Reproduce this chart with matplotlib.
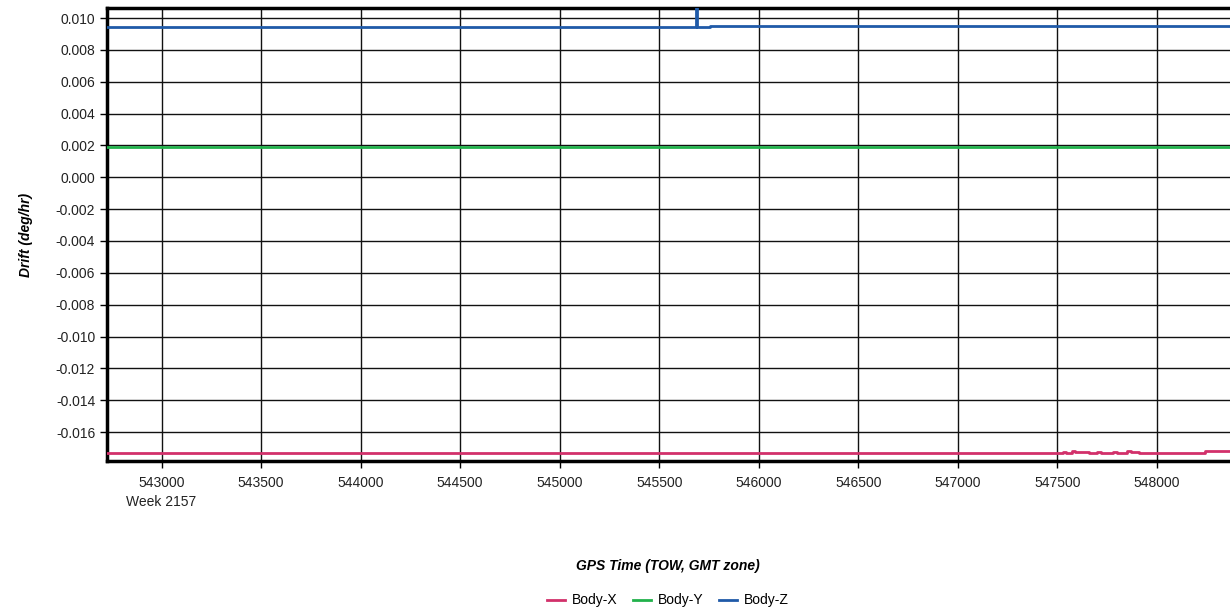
import matplotlib
matplotlib.use("Agg")
import matplotlib.pyplot as plt
import numpy as np

plt.rcParams['font.family'] = ['Liberation Sans', 'DejaVu Sans']

# Data (GPS time of week, drift in deg/hr)
x_times = [542726, 545683, 545687, 545755, 548400]
body_z = [0.00943, 0.0108, 0.00943, 0.00952, 0.00952]

y_times = [542726, 548400]
body_y = [0.00192, 0.00192]

bx_times = [542726, 547530, 547545, 547575, 547590, 547640, 547660, 547700,
            547720, 547780, 547800, 547850, 547870, 547910, 547930, 548240, 548400]
body_x = [-0.01730, -0.01724, -0.01729, -0.01721, -0.01727, -0.01724, -0.01729,
          -0.01726, -0.01729, -0.01726, -0.01728, -0.01721, -0.01724, -0.01729,
          -0.01730, -0.01721, -0.01721]

xticks = [543000, 543500, 544000, 544500, 545000, 545500, 546000, 546500,
          547000, 547500, 548000]
yticks = [0.010, 0.008, 0.006, 0.004, 0.002, 0.000, -0.002, -0.004, -0.006,
          -0.008, -0.010, -0.012, -0.014, -0.016]

fig = plt.figure(figsize=(12.30, 6.14), dpi=100)
ax = fig.add_axes([0.087, 0.249, 0.92, 0.738])

c_x = '#d2306a'
c_y = '#21b14b'
c_z = '#1f5aa8'

ax.plot(bx_times, body_x, drawstyle='steps-post', color=c_x, lw=2, label='Body-X', zorder=3)
ax.plot(y_times, body_y, drawstyle='steps-post', color=c_y, lw=2, label='Body-Y', zorder=3)
ax.plot(x_times, body_z, drawstyle='steps-post', color=c_z, lw=2, label='Body-Z', zorder=3)

ax.set_xlim(542726, 548410)
ax.set_ylim(-0.01782, 0.01063)
ax.set_xticks(xticks)
ax.set_xticklabels([str(t) if t != 543000 else '543000\nWeek 2157' for t in xticks])
ax.set_yticks(yticks)
ax.set_yticklabels(['%.3f' % v for v in yticks])
ax.grid(True, color='#111111', lw=1)
ax.tick_params(axis='both', labelsize=10, length=5, width=1, color='black', labelcolor='#222222')
ax.tick_params(axis='x', pad=6)
for lab in ax.get_xticklabels():
    lab.set_verticalalignment('top')
    lab.set_linespacing(1.45)
    lab.set_horizontalalignment('center')
for s in ['left', 'bottom', 'top']:
    ax.spines[s].set_linewidth(2.5)
ax.spines['right'].set_visible(False)

ax.set_ylabel('Drift (deg/hr)', fontsize=10, fontweight='bold', fontstyle='italic', labelpad=16)
fig.text(0.543, 0.078, 'GPS Time (TOW, GMT zone)', fontsize=10, fontweight='bold',
         fontstyle='italic', ha='center', va='center')
fig.legend(loc='center', bbox_to_anchor=(0.543, 0.022), ncol=3, frameon=False,
           fontsize=10, handlelength=1.3, handletextpad=0.5, columnspacing=1.1)

fig.savefig('out.png', dpi=100)
